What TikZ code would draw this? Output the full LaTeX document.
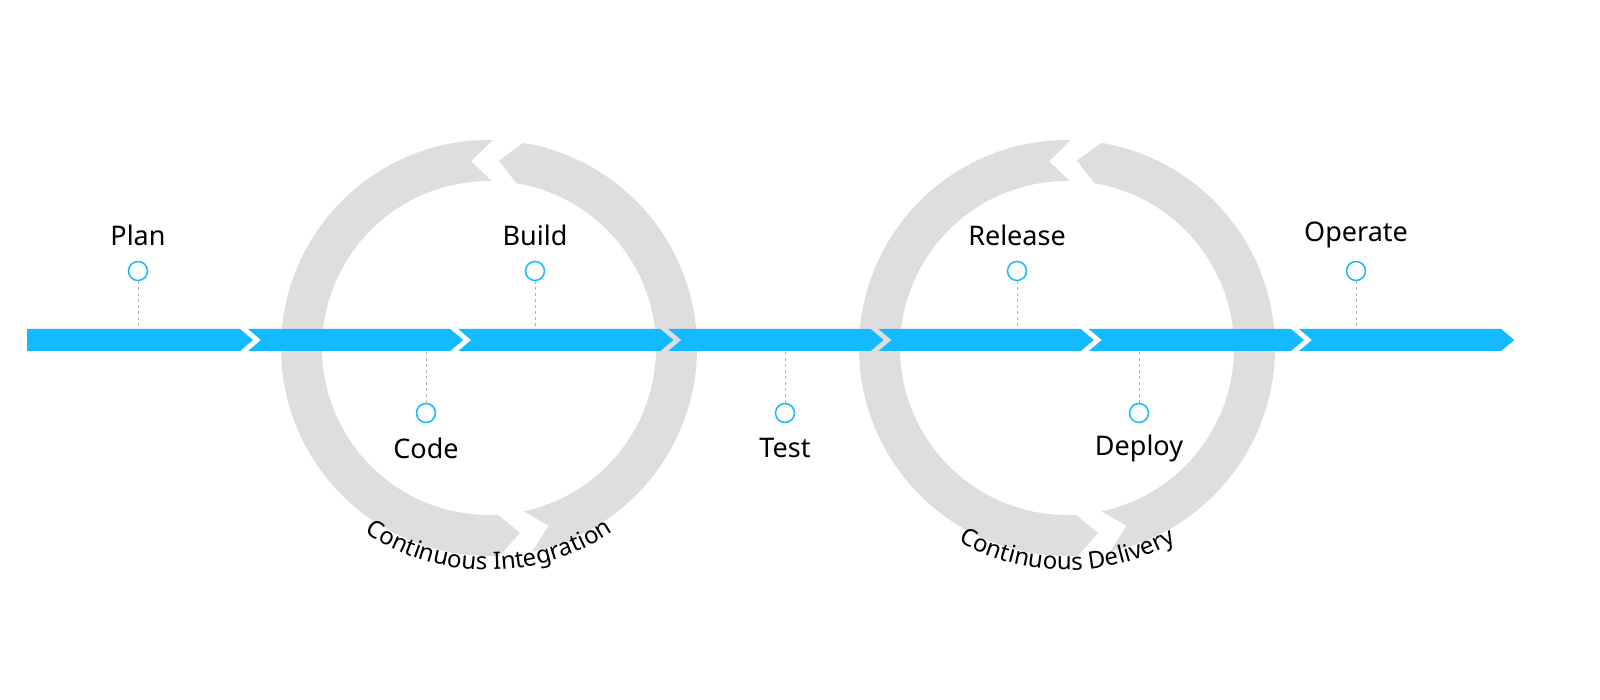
\documentclass[tikz,border=0pt]{standalone}
\usepackage{fontspec}
\setmainfont{Noto Sans}
\usetikzlibrary{decorations.text}
\definecolor{barblue}{HTML}{14BAFF}
\definecolor{ringgray}{HTML}{DEDEDE}
\definecolor{dashgray}{HTML}{B4B4B4}
\newcommand{\ringfont}{\fontsize{24}{24}\selectfont}
\tikzset{
  lbl/.style={font=\fontsize{27}{30}\selectfont, text=black, inner sep=0pt},
  dot/.style={circle, draw=barblue, line width=1.5pt, fill=white, minimum size=19pt, inner sep=0pt},
  tick/.style={draw=dashgray, dashed, line width=0.8pt},
}
\newcommand{\ringpiece}[2]{% start, end edge angles
  \fill[ringgray] (#1:208) arc[start angle=#1, end angle=#2, radius=208]
    -- (#2+6.5:187.5) -- (#2:167) arc[start angle=#2, end angle=#1, radius=167]
    -- (#1+6.5:187.5) -- cycle;}
\begin{document}
\begin{tikzpicture}[x=1pt,y=1pt]
\useasboundingbox (0,0) rectangle (1600,700);
% rings
\begin{scope}[shift={(489,352)}]
  \ringpiece{-78}{80.5}
  \ringpiece{89}{273}
  \path[decorate, decoration={text along path, text align=center,
    text={|\ringfont|Continuous Integration}}]
    (-132:222) arc[start angle=-132, end angle=-48, radius=222];
\end{scope}
\begin{scope}[shift={(1067,352)}]
  \ringpiece{-78}{80.5}
  \ringpiece{89}{273}
  \path[decorate, decoration={text along path, text align=center,
    text={|\ringfont|Continuous Delivery}}]
    (-132:222) arc[start angle=-132, end angle=-48, radius=222];
\end{scope}
% bar
\fill[barblue] (27,349) -- (240,349) -- (253,360) -- (240,371) -- (27,371) -- cycle;
\foreach \k in {1,...,6}{
  \pgfmathsetmacro{\xs}{240+210.2*(\k-1)+8}
  \pgfmathsetmacro{\xe}{240+210.2*\k}
  \fill[barblue] (\xs,349) -- (\xe,349) -- (\xe+13,360) -- (\xe,371) -- (\xs,371) -- (\xs+13,360) -- cycle;
}
% stages up
\foreach \n/\x/\t in {plan/138/Plan, build/535/Build, release/1017/Release, operate/1356/Operate}{
  \node[dot] (\n) at (\x,429) {};
  \coordinate (\n b) at (\x,371);
  \draw[tick] (\n.south) -- (\n b);
  \node[lbl] (\n t) at (\x,465) {\t};
}
% stages down
\foreach \n/\x/\t in {code/426/Code, test/785/Test, deploy/1139/Deploy}{
  \node[dot] (\n) at (\x,287) {};
  \coordinate (\n b) at (\x,349);
  \draw[tick] (\n.north) -- (\n b);
  \node[lbl] (\n t) at (\x,252) {\t};
}
\end{tikzpicture}
\end{document}
